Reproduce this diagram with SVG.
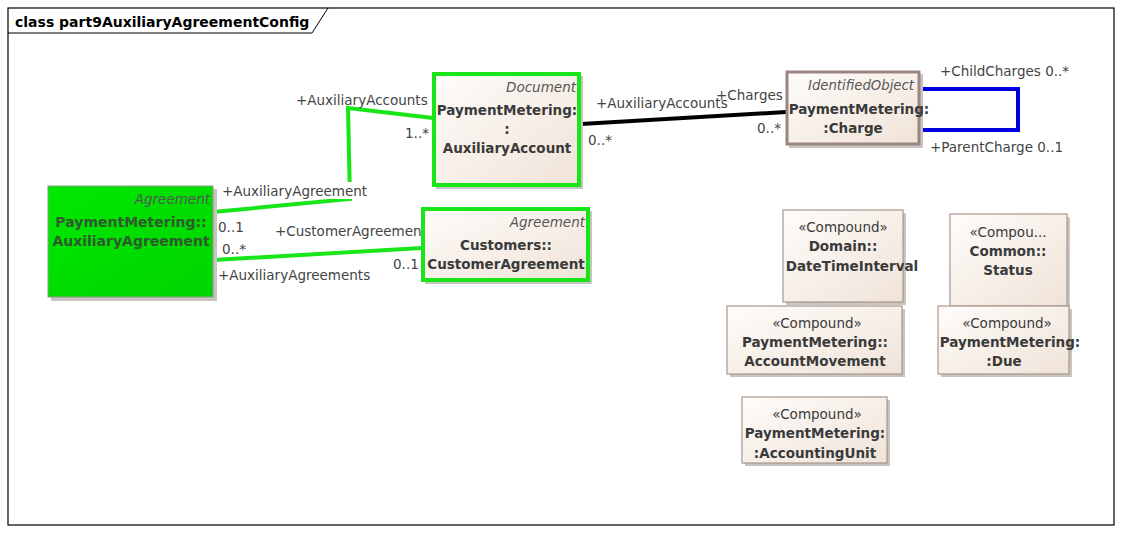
<svg xmlns="http://www.w3.org/2000/svg" width="1122" height="534" viewBox="0 0 1122 534">
<defs>
<linearGradient id="beige" x1="0" y1="0" x2="1" y2="1">
<stop offset="0" stop-color="#fefcfa"/>
<stop offset="1" stop-color="#f0e3d8"/>
</linearGradient>
<linearGradient id="green" x1="0" y1="0" x2="1" y2="1">
<stop offset="0" stop-color="#00e800"/>
<stop offset="1" stop-color="#00d400"/>
</linearGradient>
<style>
text{font-family:"DejaVu Sans","Liberation Sans",sans-serif;fill:#3a3a3a}
.nm{font-size:13.5px;font-weight:bold;text-anchor:middle}
.st{font-size:13.5px;text-anchor:middle}
.it{font-size:13.5px;font-style:italic;text-anchor:end;fill:#555}
.lb{font-size:13.5px;fill:#444}
.shadow{fill:#c8c4c0}
.cbox{fill:url(#beige);stroke:#a8968c;stroke-width:1.2}
.gline{fill:none;stroke:#19e619;stroke-width:4}
</style>
</defs>
<rect x="0" y="0" width="1122" height="534" fill="#fff"/>
<g id="frame">
<rect x="8" y="8" width="1106" height="517" fill="none" stroke="#000" stroke-width="1.2"/>
<path d="M8,33 H312 L328,8" fill="none" stroke="#000" stroke-width="1"/>
<text x="15" y="27" style="font-size:14px;font-weight:bold;fill:#000">class part9AuxiliaryAgreementConfig</text>
</g>
<g id="connectors">
<polyline class="gline" points="213,212 350,199 348,108 433,118"/>
<line class="gline" x1="213" y1="260" x2="422" y2="248"/>
<line x1="581" y1="124" x2="786" y2="112" stroke="#000" stroke-width="4"/>
<polyline points="920,89 1018,89 1018,130 920,130" fill="none" stroke="#0000e0" stroke-width="4"/>
<rect x="220" y="182" width="152" height="17" fill="#fff"/>
<text class="lb" x="222" y="196">+AuxiliaryAgreement</text>
<text class="lb" x="296" y="105">+AuxiliaryAccounts</text>
<text class="lb" x="405" y="138">1..*</text>
<text class="lb" x="218" y="232">0..1</text>
<text class="lb" x="222" y="254">0..*</text>
<text class="lb" x="275" y="236">+CustomerAgreement</text>
<text class="lb" x="218" y="280">+AuxiliaryAgreements</text>
<text class="lb" x="393" y="269">0..1</text>
<text class="lb" x="596" y="108">+AuxiliaryAccounts</text>
<text class="lb" x="588" y="145">0..*</text>
<text class="lb" x="716" y="100">+Charges</text>
<text class="lb" x="757" y="133">0..*</text>
<text class="lb" x="940" y="76">+ChildCharges 0..*</text>
<text class="lb" x="930" y="152">+ParentCharge 0..1</text>
</g>
<g id="AuxiliaryAgreement">
<rect class="shadow" x="51" y="189" width="166" height="112"/>
<rect x="48" y="186" width="165" height="111" fill="url(#green)" stroke="#8a9a8a" stroke-width="1"/>
<text class="it" x="210" y="204">Agreement</text>
<text class="nm" x="131" y="227" style="fill:#2e5a2e;font-size:14px">PaymentMetering::</text>
<text class="nm" x="131" y="246" style="fill:#2e5a2e;font-size:14px">AuxiliaryAgreement</text>
</g>
<g id="AuxiliaryAccount">
<rect class="shadow" x="436" y="76" width="147" height="113"/>
<rect x="434" y="74" width="145" height="111" fill="url(#beige)" stroke="#19e619" stroke-width="4"/>
<text class="it" x="576" y="92">Document</text>
<text class="nm" x="507" y="115">PaymentMetering:</text>
<text class="nm" x="507" y="134">:</text>
<text class="nm" x="507" y="153">AuxiliaryAccount</text>
</g>
<g id="CustomerAgreement">
<rect class="shadow" x="425" y="211" width="167" height="73"/>
<rect x="423" y="209" width="165" height="71" fill="url(#beige)" stroke="#19e619" stroke-width="4"/>
<text class="it" x="585" y="227">Agreement</text>
<text class="nm" x="506" y="250">Customers::</text>
<text class="nm" x="506" y="269">CustomerAgreement</text>
</g>
<g id="Charge">
<rect class="shadow" x="789" y="74" width="134" height="74"/>
<rect x="787" y="72" width="132" height="72" fill="url(#beige)" stroke="#9a8582" stroke-width="3"/>
<text class="it" x="914" y="90" textLength="106" lengthAdjust="spacingAndGlyphs">IdentifiedObject</text>
<text class="nm" x="859" y="114">PaymentMetering:</text>
<text class="nm" x="853" y="133">:Charge</text>
</g>
<g id="DateTimeInterval">
<rect class="shadow" x="786" y="213" width="120" height="92"/>
<rect class="cbox" x="783" y="210" width="120" height="92"/>
<text class="st" x="843" y="232">«Compound»</text>
<text class="nm" x="843" y="251">Domain::</text>
<text class="nm" x="852" y="271">DateTimeInterval</text>
</g>
<g id="Status">
<rect class="shadow" x="953" y="217" width="117" height="92"/>
<rect class="cbox" x="950" y="214" width="117" height="92"/>
<text class="st" x="1008" y="237">«Compou...</text>
<text class="nm" x="1008" y="256">Common::</text>
<text class="nm" x="1008" y="275">Status</text>
</g>
<g id="AccountMovement">
<rect class="shadow" x="730" y="309" width="175" height="68"/>
<rect class="cbox" x="727" y="306" width="175" height="68"/>
<text class="st" x="817" y="328">«Compound»</text>
<text class="nm" x="815" y="347">PaymentMetering::</text>
<text class="nm" x="815" y="366">AccountMovement</text>
</g>
<g id="Due">
<rect class="shadow" x="941" y="309" width="131" height="68"/>
<rect class="cbox" x="938" y="306" width="131" height="68"/>
<text class="st" x="1007" y="328">«Compound»</text>
<text class="nm" x="1010" y="347">PaymentMetering:</text>
<text class="nm" x="1004" y="366">:Due</text>
</g>
<g id="AccountingUnit">
<rect class="shadow" x="745" y="400" width="145" height="66"/>
<rect class="cbox" x="742" y="397" width="145" height="66"/>
<text class="st" x="817" y="419">«Compound»</text>
<text class="nm" x="815" y="438">PaymentMetering:</text>
<text class="nm" x="815" y="458">:AccountingUnit</text>
</g>
</svg>
